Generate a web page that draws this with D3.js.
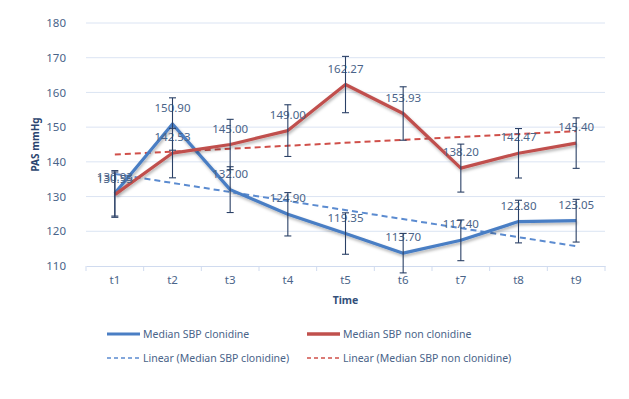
<!DOCTYPE html>
<head>
    <meta charset="UTF-8">
    <title>PAS mmHg</title>
    <style>
        body { margin: 0; background: #fff; }
        text { font-family: "Noto Sans", "Open Sans", sans-serif; }
    </style>
</head>
<body>
    <script src="https://d3js.org/d3.v7.min.js"></script>
    <script>
        var categories = ["t1", "t2", "t3", "t4", "t5", "t6", "t7", "t8", "t9"]
        var clonidine = [130.93, 150.90, 132.00, 124.90, 119.35, 113.70, 117.40, 122.80, 123.05]
        var nonClonidine = [130.55, 142.53, 145.00, 149.00, 162.27, 153.93, 138.20, 142.47, 145.40]
        var yTicks = [110, 120, 130, 140, 150, 160, 170, 180]
        var errPct = 0.05 // barres d'erreur en pourcentage (5 %)

        var width = 629
        var height = 399
        var plot = { left: 86, right: 605, top: 23, bottom: 266 }

        var labelColor = "#4a6489"
        var blue = "#4a7ec4"
        var red = "#c0504d"

        var svg = d3.select("body").append("svg")
            .attr("width", width)
            .attr("height", height)

        var defs = svg.append("defs")
        defs.append("filter").attr("id", "shadow")
            .attr("x", "-10%").attr("y", "-10%").attr("width", "120%").attr("height", "130%")
            .append("feDropShadow")
            .attr("dx", 1).attr("dy", 2).attr("stdDeviation", 1.4)
            .attr("flood-color", "#000").attr("flood-opacity", 0.3)

        var x = d3.scaleBand().domain(categories).range([plot.left, plot.right])
        var y = d3.scaleLinear().domain([110, 180]).range([plot.bottom, plot.top])
        var cx = function(c) { return x(c) + x.bandwidth() / 2 }

        // grille
        svg.append("g").selectAll("line").data(yTicks.slice(1)).enter().append("line")
            .attr("x1", plot.left).attr("x2", plot.right)
            .attr("y1", function(d) { return y(d) }).attr("y2", function(d) { return y(d) })
            .attr("stroke", "#dbe4f3").attr("stroke-width", 1)

        // axe y
        var yAxis = svg.append("g").attr("transform", "translate(" + plot.left + ",0)")
            .call(d3.axisLeft(y).tickValues(yTicks).tickSize(0).tickPadding(20))
        yAxis.select(".domain").remove()
        yAxis.selectAll("text").attr("fill", labelColor).attr("font-size", 11.5)

        // axe x
        var xAxis = svg.append("g").attr("transform", "translate(0," + plot.bottom + ")")
            .call(d3.axisBottom(x).tickSize(0).tickPadding(10))
        xAxis.select(".domain").attr("stroke", "#d0dbef")
        xAxis.selectAll("text").attr("fill", labelColor).attr("font-size", 11.5)
        svg.append("g").selectAll("line").data(categories.concat(["end"])).enter().append("line")
            .attr("x1", function(d, i) { return plot.left + i * x.bandwidth() })
            .attr("x2", function(d, i) { return plot.left + i * x.bandwidth() })
            .attr("y1", plot.bottom).attr("y2", plot.bottom + 5)
            .attr("stroke", "#d0dbef")

        // titres
        svg.append("text").attr("x", (plot.left + plot.right) / 2).attr("y", 304)
            .attr("text-anchor", "middle").attr("font-size", 10.5).attr("font-weight", "bold")
            .attr("fill", "#34507a").text("Time")
        svg.append("text")
            .attr("transform", "translate(39," + (plot.top + plot.bottom) / 2 + ") rotate(-90)")
            .attr("text-anchor", "middle").attr("font-size", 10).attr("font-weight", "bold")
            .attr("fill", "#2c4670").text("PAS mmHg")

        // tendances linéaires
        function trend(values) {
            var n = values.length
            var mx = d3.mean(values, function(d, i) { return i + 1 })
            var my = d3.mean(values)
            var sxy = d3.sum(values, function(d, i) { return (i + 1 - mx) * (d - my) })
            var sxx = d3.sum(values, function(d, i) { return (i + 1 - mx) * (i + 1 - mx) })
            var b = sxy / sxx
            return [my + b * (1 - mx), my + b * (n - mx)]
        }
        function drawTrend(values, color) {
            var t = trend(values)
            svg.append("line")
                .attr("x1", cx(categories[0])).attr("x2", cx(categories[categories.length - 1]))
                .attr("y1", y(t[0])).attr("y2", y(t[1]))
                .attr("stroke", color).attr("stroke-width", 2).attr("stroke-dasharray", "6,4")
        }
        drawTrend(nonClonidine, "#d0504a")
        drawTrend(clonidine, "#5b8bd0")

        // séries
        var line = d3.line().x(function(d, i) { return cx(categories[i]) }).y(function(d) { return y(d) })
        function drawSeries(values, color) {
            svg.append("path").datum(values)
                .attr("d", line).attr("fill", "none")
                .attr("stroke", color).attr("stroke-width", 3.2)
                .attr("stroke-linejoin", "round")
                .attr("filter", "url(#shadow)")
        }
        drawSeries(clonidine, blue)
        drawSeries(nonClonidine, red)

        // étiquettes
        function drawLabels(values) {
            svg.append("g").selectAll("text").data(values).enter().append("text")
                .attr("x", function(d, i) { return cx(categories[i]) })
                .attr("y", function(d) { return y(d) - 12 })
                .attr("text-anchor", "middle").attr("font-size", 11.5)
                .attr("fill", labelColor)
                .text(function(d) { return d.toFixed(2) })
        }
        drawLabels(clonidine)
        drawLabels(nonClonidine)

        // barres d'erreur
        function drawErrors(values) {
            var g = svg.append("g").attr("stroke", "#2a4066").attr("stroke-width", 1.1)
            values.forEach(function(d, i) {
                var px = cx(categories[i])
                var lo = y(d * (1 - errPct)), hi = y(d * (1 + errPct))
                g.append("line").attr("x1", px).attr("x2", px).attr("y1", lo).attr("y2", hi)
                g.append("line").attr("x1", px - 3.5).attr("x2", px + 3.5).attr("y1", lo).attr("y2", lo)
                g.append("line").attr("x1", px - 3.5).attr("x2", px + 3.5).attr("y1", hi).attr("y2", hi)
            })
        }
        drawErrors(clonidine)
        drawErrors(nonClonidine)

        // légende
        var legend = [
            { name: "Median SBP clonidine", color: blue, dash: null, w: 3, x: 107, y: 334 },
            { name: "Median SBP non clonidine", color: red, dash: null, w: 3.5, x: 307, y: 334 },
            { name: "Linear (Median SBP clonidine)", color: "#5b8bd0", dash: "4,3", w: 1.6, x: 107, y: 358 },
            { name: "Linear (Median SBP non clonidine)", color: "#d0504a", dash: "4,3", w: 1.6, x: 307, y: 358 }
        ]
        var lg = svg.append("g").selectAll("g").data(legend).enter().append("g")
        lg.append("line")
            .attr("x1", function(d) { return d.x }).attr("x2", function(d) { return d.x + 33 })
            .attr("y1", function(d) { return d.y }).attr("y2", function(d) { return d.y })
            .attr("stroke", function(d) { return d.color })
            .attr("stroke-width", function(d) { return d.w })
            .attr("stroke-dasharray", function(d) { return d.dash })
        lg.append("text")
            .attr("x", function(d) { return d.x + 36 }).attr("y", function(d) { return d.y + 4 })
            .attr("font-size", 10.5).attr("fill", labelColor)
            .text(function(d) { return d.name })
    </script>
</body>
</html>
